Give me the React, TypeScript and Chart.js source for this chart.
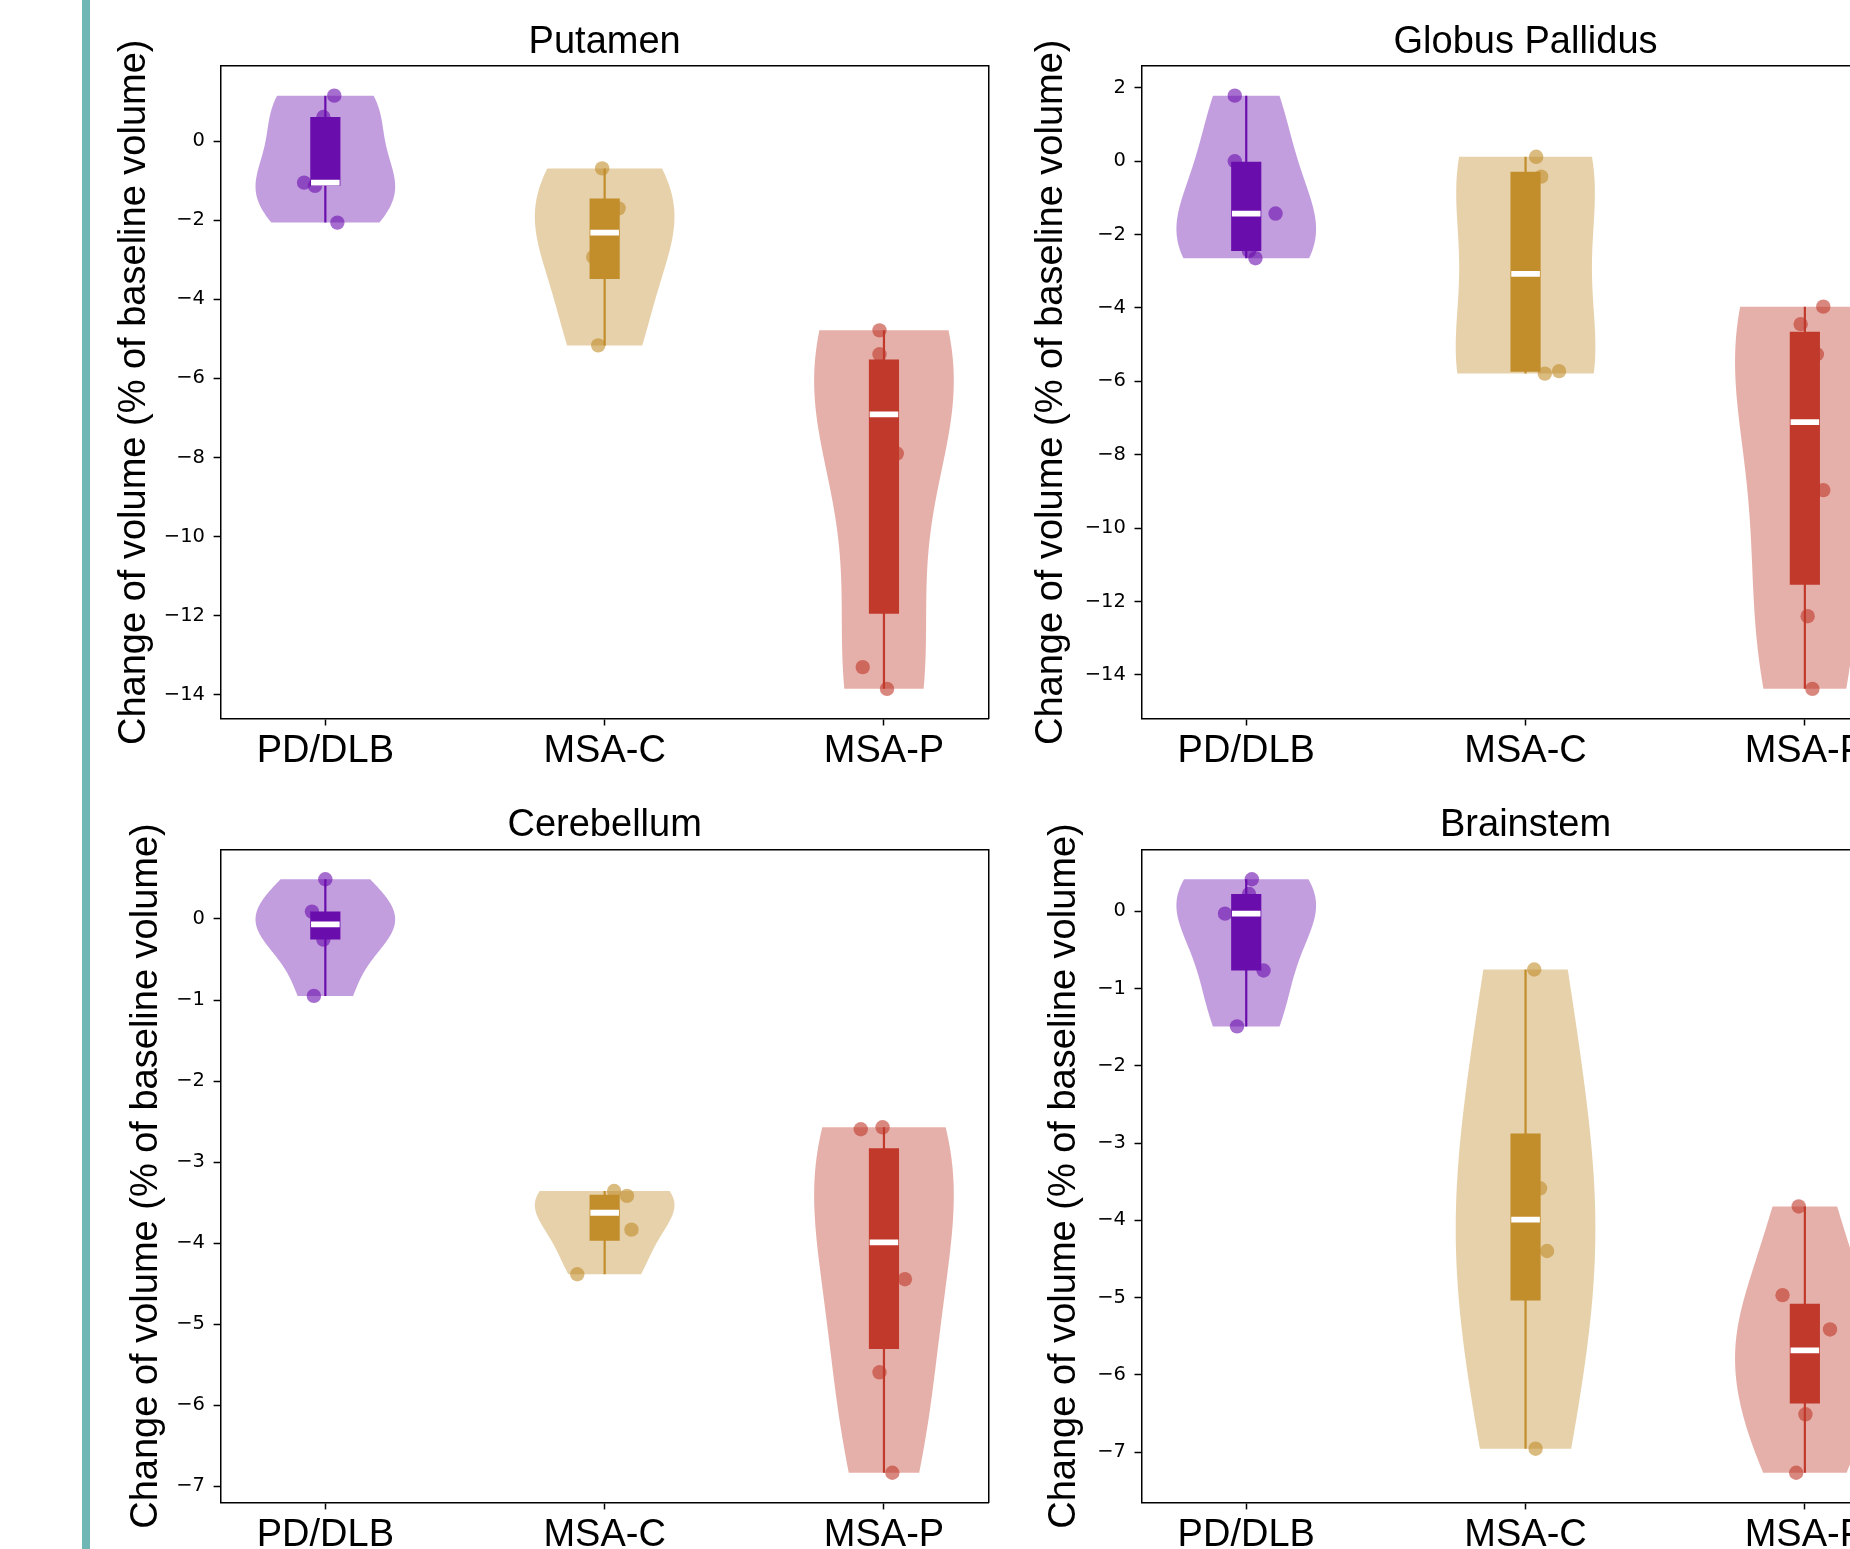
import React, { useEffect, useRef } from 'react';
import { Chart, registerables } from 'chart.js';

Chart.register(...registerables);

// ---------------- data ----------------
const CATEGORIES = ['PD/DLB', 'MSA-C', 'MSA-P'];
const COLORS = ['#6A0DAD', '#C28D2B', '#C0392B'];
const Y_LABEL = 'Change of volume (% of baseline volume)';
const TITLES = ['Putamen', 'Globus Pallidus', 'Cerebellum', 'Brainstem'];

// Putamen
const PUTAMEN_PD = [1.15, 0.61, -1.05, -1.13, -2.06];
const PUTAMEN_PD_X = [0.032, -0.007, -0.076, -0.037, 0.043];
const PUTAMEN_MSAC = [-0.69, -1.7, -2.93, -5.165];
const PUTAMEN_MSAC_X = [-0.009, 0.05, -0.041, -0.023];
const PUTAMEN_MSAP = [-4.785, -5.39, -5.92, -7.9, -13.3, -13.85];
const PUTAMEN_MSAP_X = [-0.016, -0.016, 0.01, 0.046, -0.076, 0.011];
const PUTAMEN_TICKS = [0, -2, -4, -6, -8, -10, -12, -14];

// Globus Pallidus
const GP_PD = [1.787, 0.0, -1.426, -2.444, -2.643];
const GP_PD_X = [-0.041, -0.041, 0.105, 0.01, 0.033];
const GP_MSAC = [0.121, -0.42, -5.72, -5.788];
const GP_MSAC_X = [0.038, 0.056, 0.12, 0.069];
const GP_MSAP = [-3.963, -4.44, -5.26, -8.963, -12.4, -14.38];
const GP_MSAP_X = [0.066, -0.015, 0.043, 0.066, 0.01, 0.027];
const GP_TICKS = [2, 0, -2, -4, -6, -8, -10, -12, -14];

// Cerebellum
const CB_PD = [0.49, 0.091, -0.066, -0.254, -0.949];
const CB_PD_X = [0.0, -0.048, 0.01, -0.007, -0.041];
const CB_MSAC = [-3.356, -3.416, -3.833, -4.383];
const CB_MSAC_X = [0.034, 0.08, 0.096, -0.098];
const CB_MSAP = [-2.57, -2.594, -3.536, -4.444, -5.593, -6.832];
const CB_MSAP_X = [-0.005, -0.083, 0.0, 0.075, -0.016, 0.03];
const CB_TICKS = [0, -1, -2, -3, -4, -5, -6, -7];

// Brainstem
const BS_PD = [0.413, 0.222, -0.032, -0.768, -1.491];
const BS_PD_X = [0.02, 0.01, -0.076, 0.062, -0.033];
const BS_MSAC = [-0.755, -3.586, -4.398, -6.956];
const BS_MSAC_X = [0.031, 0.052, 0.077, 0.036];
const BS_MSAP = [-3.821, -4.969, -5.413, -5.955, -6.511, -7.267];
const BS_MSAP_X = [-0.022, -0.08, 0.09, 0.0, 0.002, -0.031];
const BS_TICKS = [0, -1, -2, -3, -4, -5, -6, -7];

// ---------------- layout (page pixels) ----------------
const SANS = "'Liberation Sans', Arial, Helvetica, sans-serif";
const DEJAVU = "'DejaVu Sans', sans-serif";

type Layout = {
  left: number; top: number; width: number; height: number;
  yW: number; rW: number; topH: number; botH: number;
  titlePad: number; yTitlePad: number;
};

const LAYOUTS: Layout[] = [
  { left: 90, top: 0, width: 910, height: 779, yW: 130.6, rW: 11.3, topH: 66, botH: 60.5, titlePad: 19.5, yTitlePad: 22 },
  { left: 1000, top: 0, width: 921, height: 779, yW: 141.5, rW: 11.4, topH: 66, botH: 60.5, titlePad: 19.5, yTitlePad: 28.5 },
  { left: 90, top: 780, width: 910, height: 769, yW: 130.6, rW: 11.3, topH: 69.6, botH: 46.6, titlePad: 23.1, yTitlePad: 33.5 },
  { left: 1000, top: 780, width: 921, height: 769, yW: 141.5, rW: 11.4, topH: 69.6, botH: 46.6, titlePad: 23.1, yTitlePad: 42.2 },
];

type Panel = { title: string; groups: { values: number[]; jitter: number[] }[]; ticks: number[]; layout: Layout };

const PANELS: Panel[] = [
  { title: TITLES[0], ticks: PUTAMEN_TICKS, layout: LAYOUTS[0], groups: [
    { values: PUTAMEN_PD, jitter: PUTAMEN_PD_X },
    { values: PUTAMEN_MSAC, jitter: PUTAMEN_MSAC_X },
    { values: PUTAMEN_MSAP, jitter: PUTAMEN_MSAP_X },
  ] },
  { title: TITLES[1], ticks: GP_TICKS, layout: LAYOUTS[1], groups: [
    { values: GP_PD, jitter: GP_PD_X },
    { values: GP_MSAC, jitter: GP_MSAC_X },
    { values: GP_MSAP, jitter: GP_MSAP_X },
  ] },
  { title: TITLES[2], ticks: CB_TICKS, layout: LAYOUTS[2], groups: [
    { values: CB_PD, jitter: CB_PD_X },
    { values: CB_MSAC, jitter: CB_MSAC_X },
    { values: CB_MSAP, jitter: CB_MSAP_X },
  ] },
  { title: TITLES[3], ticks: BS_TICKS, layout: LAYOUTS[3], groups: [
    { values: BS_PD, jitter: BS_PD_X },
    { values: BS_MSAC, jitter: BS_MSAC_X },
    { values: BS_MSAP, jitter: BS_MSAP_X },
  ] },
];

// ---------------- helpers ----------------
function rgba(hex: string, a: number) {
  const n = parseInt(hex.slice(1), 16);
  return `rgba(${(n >> 16) & 255}, ${(n >> 8) & 255}, ${n & 255}, ${a})`;
}

function percentile(sorted: number[], p: number) {
  const idx = p * (sorted.length - 1);
  const lo = Math.floor(idx);
  const hi = Math.ceil(idx);
  return sorted[lo] + (sorted[hi] - sorted[lo]) * (idx - lo);
}

function boxStats(values: number[]) {
  const s = [...values].sort((a, b) => a - b);
  return { min: s[0], max: s[s.length - 1], q1: percentile(s, 0.25), median: percentile(s, 0.5), q3: percentile(s, 0.75) };
}

// Gaussian KDE (Scott's rule), evaluated between min and max like matplotlib's violinplot
function violinOutline(values: number[], nPts = 100) {
  const n = values.length;
  const mean = values.reduce((a, b) => a + b, 0) / n;
  const variance = values.reduce((a, b) => a + (b - mean) ** 2, 0) / (n - 1);
  const factor = Math.pow(n, -0.2);
  const cov = variance * factor * factor;
  const lo = Math.min(...values);
  const hi = Math.max(...values);
  const ys: number[] = [];
  const dens: number[] = [];
  for (let i = 0; i < nPts; i++) {
    const y = lo + ((hi - lo) * i) / (nPts - 1);
    let s = 0;
    for (const v of values) s += Math.exp((-0.5 * (y - v) ** 2) / cov);
    ys.push(y);
    dens.push(s);
  }
  const dmax = Math.max(...dens);
  return ys.map((y, i) => ({ y, hw: (0.5 * 0.5 * dens[i]) / dmax }));
}

function minusFmt(v: number) {
  return v < 0 ? '\u2212' + String(Math.abs(v)) : String(v);
}

function makeViolinPlugin(violins: { pos: number; color: string; outline: { y: number; hw: number }[] }[]) {
  return {
    id: 'violinBodies',
    beforeDatasetsDraw(chart: any) {
      const { ctx, chartArea } = chart;
      const xs = chart.scales.x;
      const ys = chart.scales.y;
      ctx.save();
      ctx.beginPath();
      ctx.rect(chartArea.left, chartArea.top, chartArea.right - chartArea.left, chartArea.bottom - chartArea.top);
      ctx.clip();
      for (const v of violins) {
        ctx.beginPath();
        v.outline.forEach((p, i) => {
          const px = xs.getPixelForValue(v.pos + p.hw);
          const py = ys.getPixelForValue(p.y);
          if (i === 0) ctx.moveTo(px, py);
          else ctx.lineTo(px, py);
        });
        for (let i = v.outline.length - 1; i >= 0; i--) {
          const p = v.outline[i];
          ctx.lineTo(xs.getPixelForValue(v.pos - p.hw), ys.getPixelForValue(p.y));
        }
        ctx.closePath();
        ctx.fillStyle = v.color;
        ctx.fill();
      }
      ctx.restore();
    },
  };
}

function buildConfig(panel: Panel): any {
  const L = panel.layout;
  const all = panel.groups.flatMap((g) => g.values);
  const dMin = Math.min(...all);
  const dMax = Math.max(...all);
  const pad = 0.05 * (dMax - dMin);
  const yMin = dMin - pad;
  const yMax = dMax + pad;
  const xMin = -0.375;
  const xMax = 2.375;

  const stats = panel.groups.map((g) => boxStats(g.values));
  const violins = panel.groups.map((g, i) => ({ pos: i, color: rgba(COLORS[i], 0.4), outline: violinOutline(g.values) }));

  const datasets: any[] = [];
  panel.groups.forEach((g, i) => {
    datasets.push({
      type: 'scatter', xAxisID: 'x', yAxisID: 'y', order: 4,
      data: g.values.map((v, j) => ({ x: i + g.jitter[j], y: v })),
      pointRadius: 7.2, pointBackgroundColor: rgba(COLORS[i], 0.6), pointBorderWidth: 0, pointHoverRadius: 7.2,
    });
  });
  stats.forEach((s, i) => {
    datasets.push({
      type: 'scatter', xAxisID: 'x', yAxisID: 'y', order: 3, showLine: true,
      data: [{ x: i, y: s.min }, { x: i, y: s.max }],
      borderColor: COLORS[i], borderWidth: 2.2, pointRadius: 0, pointHoverRadius: 0,
    });
  });
  datasets.push({
    type: 'bar', xAxisID: 'x', yAxisID: 'y', order: 2,
    data: stats.map((s, i) => ({ x: i, y: [s.q1, s.q3] })),
    backgroundColor: COLORS, borderWidth: 0, categoryPercentage: 1, barPercentage: 0.108,
  });
  datasets.push({
    type: 'scatter', xAxisID: 'x', yAxisID: 'y', order: 1,
    data: stats.map((s, i) => ({ x: i, y: s.median })),
    pointStyle: 'line', pointRadius: 14.3, pointHoverRadius: 14.3, pointBorderWidth: 5.8, pointBorderColor: '#ffffff',
    pointBackgroundColor: '#ffffff',
  });

  const frameBorder = { display: true, color: '#000', width: 1.5 };

  return {
    type: 'scatter',
    data: { datasets },
    plugins: [makeViolinPlugin(violins)],
    options: {
      responsive: false,
      animation: false,
      devicePixelRatio: 1,
      events: [],
      layout: { padding: 0, autoPadding: false },
      plugins: { legend: { display: false }, tooltip: { enabled: false }, title: { display: false } },
      scales: {
        x: {
          type: 'linear', position: 'bottom', min: xMin, max: xMax, offset: false,
          afterBuildTicks: (s: any) => { s.ticks = [0, 1, 2].map((v) => ({ value: v })); },
          afterFit: (s: any) => { s.height = L.botH; },
          ticks: {
            callback: (v: number) => CATEGORIES[v], font: { family: SANS, size: 38 }, color: '#000',
            padding: 3.5, maxRotation: 0, minRotation: 0, autoSkip: false,
          },
          grid: { display: true, drawOnChartArea: false, drawTicks: true, tickLength: 7, tickWidth: 1.5, tickColor: '#000', offset: false },
          border: frameBorder,
        },
        xTop: {
          type: 'linear', position: 'top', min: xMin, max: xMax, offset: false,
          afterFit: (s: any) => { s.height = L.topH; },
          ticks: { display: false },
          grid: { display: false, drawOnChartArea: false, drawTicks: false },
          border: frameBorder,
          title: { display: true, text: panel.title, color: '#000', font: { family: SANS, size: 38 }, padding: { top: L.titlePad, bottom: 0 } },
        },
        y: {
          type: 'linear', position: 'left', min: yMin, max: yMax, beginAtZero: false,
          afterBuildTicks: (s: any) => { s.ticks = panel.ticks.map((v) => ({ value: v })); },
          afterFit: (s: any) => { s.width = L.yW; },
          ticks: { callback: (v: number) => minusFmt(v), font: { family: DEJAVU, size: 19.5 }, color: '#000', padding: 8.6 },
          grid: { display: true, drawOnChartArea: false, drawTicks: true, tickLength: 7, tickWidth: 1.5, tickColor: '#000' },
          border: frameBorder,
          title: { display: true, text: Y_LABEL, color: '#000', font: { family: SANS, size: 38 }, padding: { top: L.yTitlePad, bottom: 0 } },
        },
        yRight: {
          type: 'linear', position: 'right', min: yMin, max: yMax, beginAtZero: false,
          afterFit: (s: any) => { s.width = L.rW; },
          ticks: { display: false },
          grid: { display: false, drawOnChartArea: false, drawTicks: false },
          border: frameBorder,
        },
      },
    },
  };
}

function PanelChart({ panel }: { panel: Panel }) {
  const ref = useRef<HTMLCanvasElement>(null);
  useEffect(() => {
    if (!ref.current) return;
    const chart = new Chart(ref.current, buildConfig(panel));
    return () => chart.destroy();
  }, [panel]);
  const L = panel.layout;
  return (
    <canvas
      ref={ref}
      width={L.width}
      height={L.height}
      style={{ position: 'absolute', left: L.left, top: L.top, width: L.width, height: L.height }}
    />
  );
}

export default function App() {
  return (
    <div style={{ position: 'fixed', left: 0, top: 0, width: 1850, height: 1549, overflow: 'hidden', background: '#ffffff' }}>
      <div style={{ position: 'absolute', left: 82, top: 0, width: 8, height: 1549, background: '#6FB7B5' }} />
      {PANELS.map((p, i) => (
        <PanelChart key={i} panel={p} />
      ))}
    </div>
  );
}
